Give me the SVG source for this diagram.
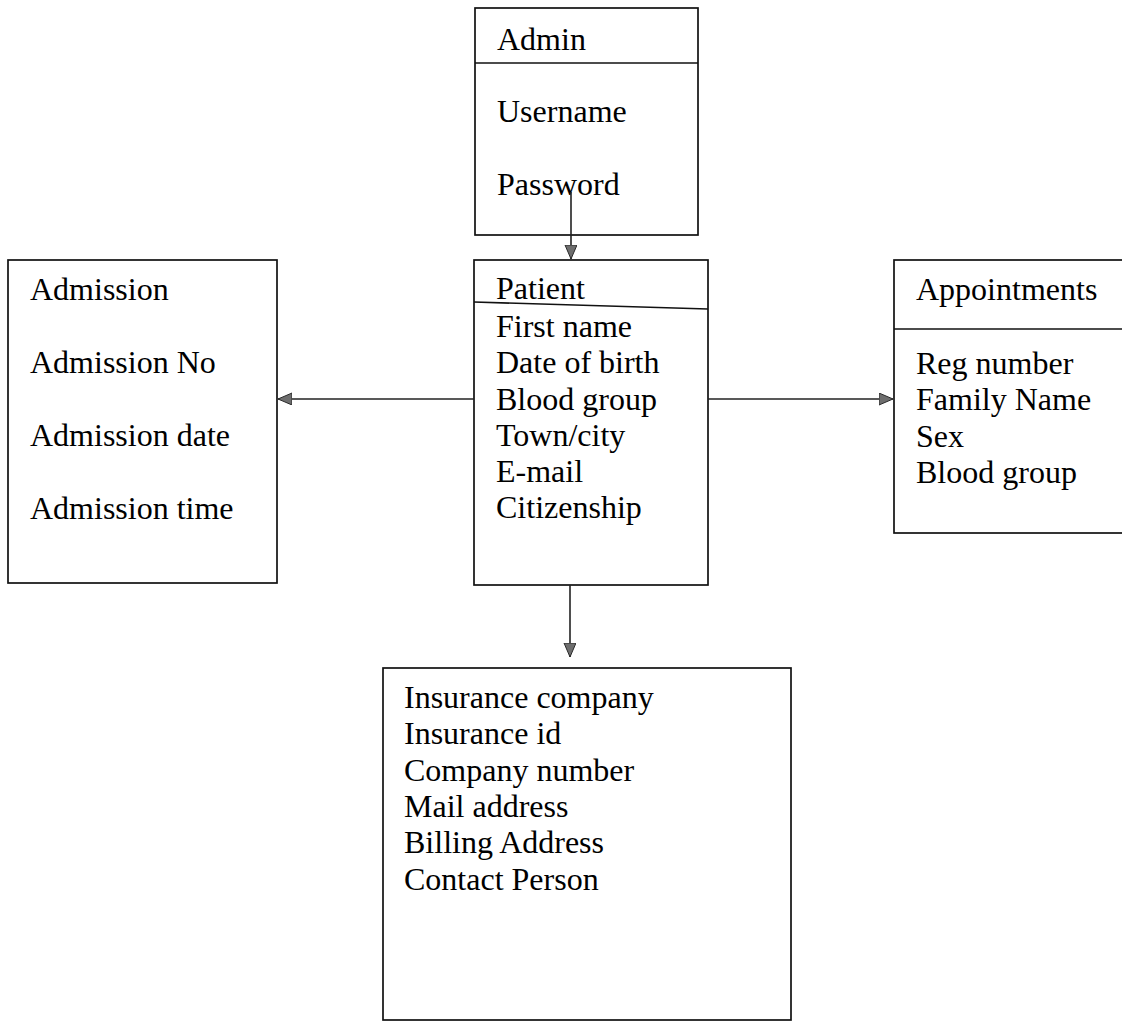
<svg xmlns="http://www.w3.org/2000/svg" width="1122" height="1022" viewBox="0 0 1122 1022">
  <style>
    .box { fill: #ffffff; stroke: #111111; stroke-width: 1.7; }
    .div { fill: none; stroke: #111111; stroke-width: 1.7; }
    .lbl { font-family: "Liberation Serif", "Times New Roman", serif; font-size: 32px; fill: #000000; }
    .conn { fill: none; stroke: #222222; stroke-width: 1.6; }
  </style>
  <defs>
    <marker id="arrow" markerUnits="userSpaceOnUse" markerWidth="16" markerHeight="14" refX="14" refY="6" orient="auto">
      <path d="M0,0 L14,6 L0,12 Z" fill="#6e6e6e" stroke="#2a2a2a" stroke-width="1"/>
    </marker>
  </defs>
  <rect width="1122" height="1022" fill="#ffffff"/>

  <g id="admin">
    <rect class="box" x="475" y="8" width="223" height="227"/>
    <line class="div" x1="475" y1="63" x2="698" y2="63"/>
    <text class="lbl" x="497" y="50">Admin</text>
    <text class="lbl" x="497" y="122">Username</text>
    <text class="lbl" x="497" y="195">Password</text>
  </g>

  <g id="patient">
    <rect class="box" x="474" y="260" width="234" height="325"/>
    <line class="div" x1="474" y1="302" x2="708" y2="309"/>
    <text class="lbl" x="496" y="299">Patient</text>
    <text class="lbl" x="496" y="337">First name</text>
    <text class="lbl" x="496" y="373">Date of birth</text>
    <text class="lbl" x="496" y="410">Blood group</text>
    <text class="lbl" x="496" y="446">Town/city</text>
    <text class="lbl" x="496" y="482">E-mail</text>
    <text class="lbl" x="496" y="518">Citizenship</text>
  </g>

  <g id="admission">
    <rect class="box" x="8" y="260" width="269" height="323"/>
    <text class="lbl" x="30" y="300">Admission</text>
    <text class="lbl" x="30" y="373">Admission No</text>
    <text class="lbl" x="30" y="446">Admission date</text>
    <text class="lbl" x="30" y="519">Admission time</text>
  </g>

  <g id="appointments">
    <rect class="box" x="894" y="260" width="240" height="273"/>
    <line class="div" x1="894" y1="329" x2="1122" y2="329"/>
    <text class="lbl" x="916" y="300">Appointments</text>
    <text class="lbl" x="916" y="374">Reg number</text>
    <text class="lbl" x="916" y="410">Family Name</text>
    <text class="lbl" x="916" y="447">Sex</text>
    <text class="lbl" x="916" y="483">Blood group</text>
  </g>

  <g id="insurance">
    <rect class="box" x="383" y="668" width="408" height="352"/>
    <text class="lbl" x="404" y="708">Insurance company</text>
    <text class="lbl" x="404" y="744">Insurance id</text>
    <text class="lbl" x="404" y="781">Company number</text>
    <text class="lbl" x="404" y="817">Mail address</text>
    <text class="lbl" x="404" y="853">Billing Address</text>
    <text class="lbl" x="404" y="890">Contact Person</text>
  </g>

  <g id="connectors">
    <line class="conn" x1="571" y1="192" x2="571" y2="259" marker-end="url(#arrow)"/>
    <line class="conn" x1="474" y1="399" x2="278" y2="399" marker-end="url(#arrow)"/>
    <line class="conn" x1="708" y1="399" x2="893" y2="399" marker-end="url(#arrow)"/>
    <line class="conn" x1="570" y1="585" x2="570" y2="657" marker-end="url(#arrow)"/>
  </g>
</svg>
